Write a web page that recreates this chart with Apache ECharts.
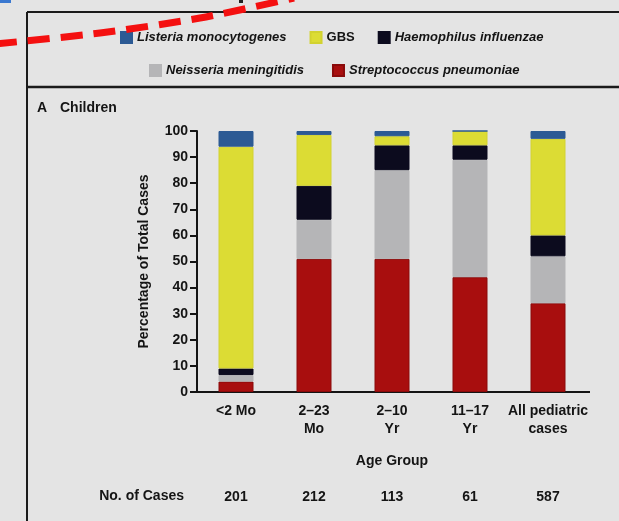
<!DOCTYPE html>
<html>
<head>
<meta charset="utf-8">
<script src="https://cdn.jsdelivr.net/npm/echarts@6/dist/echarts.min.js"></script>
<style>
  html, body { margin: 0; padding: 0; background: #e4e4e4; }
  #chart { width: 619px; height: 521px; }
</style>
</head>
<body>
<div id="chart"></div>
<script>
// Age groups along the x axis
const ageGroups = ['<2 Mo', '2–23\nMo', '2–10\nYr', '11–17\nYr', 'All pediatric\ncases'];
// Number of cases per age group
const caseCounts = ['201', '212', '113', '61', '587'];

// Percentage of total cases per pathogen, one value per age group
const streptococcus = [4, 51, 51, 44, 34];
const neisseria = [2.5, 15, 34, 45, 18];
const haemophilus = [2.5, 13, 9.5, 5.5, 8];
const gbs = [85, 19.5, 3.5, 5.5, 37];
const listeria = [6, 1.5, 2, 0, 3];

const yTicks = { min: 0, max: 100, interval: 10 };

const FONT = '"Liberation Sans", Arial, sans-serif';
const INK = '#141414';

const chart = echarts.init(document.getElementById('chart'));

function barSeries(name, data, color, border) {
  return {
    name: name,
    type: 'bar',
    stack: 'total',
    data: data,
    barWidth: 35,
    itemStyle: { color: color, borderColor: border, borderWidth: 1 },
    emphasis: { disabled: true }
  };
}

const legendText = {
  fontFamily: FONT,
  fontSize: 13,
  fontWeight: 'bold',
  color: INK,
  rich: {
    i: { fontFamily: FONT, fontSize: 13, fontWeight: 'bold', fontStyle: 'italic', color: INK },
    n: { fontFamily: FONT, fontSize: 13, fontWeight: 'bold', color: INK }
  }
};
const legendFormatter = name => name === 'GBS' ? '{n|' + name + '}' : '{i|' + name + '}';

chart.setOption({
  backgroundColor: '#e4e4e4',
  animation: false,
  legend: [
    {
      left: 115, top: 26,
      icon: 'rect', itemWidth: 11, itemHeight: 11, itemGap: 23,
      selectedMode: false,
      data: ['Listeria monocytogenes', 'GBS', 'Haemophilus influenzae'],
      formatter: legendFormatter,
      textStyle: legendText
    },
    {
      left: 144, top: 59,
      icon: 'rect', itemWidth: 11, itemHeight: 11, itemGap: 28,
      selectedMode: false,
      data: ['Neisseria meningitidis', 'Streptococcus pneumoniae'],
      formatter: legendFormatter,
      textStyle: legendText
    }
  ],
  grid: { left: 197, right: 32, top: 131, bottom: 129 },
  xAxis: [
    {
      type: 'category',
      data: ageGroups,
      axisLine: { lineStyle: { color: INK, width: 2 } },
      axisTick: { alignWithLabel: true, length: 5, lineStyle: { color: INK, width: 2 } },
      axisLabel: {
        margin: 10, lineHeight: 18, interval: 0,
        fontFamily: FONT, fontSize: 14, fontWeight: 'bold', color: INK
      },
      name: 'Age Group',
      nameLocation: 'middle',
      nameGap: 62,
      nameTextStyle: { fontFamily: FONT, fontSize: 14, fontWeight: 'bold', color: INK }
    },
    {
      type: 'category',
      data: caseCounts,
      position: 'bottom',
      offset: 90,
      axisLine: { show: false },
      axisTick: { show: false },
      axisLabel: { interval: 0, fontFamily: FONT, fontSize: 14, fontWeight: 'bold', color: INK }
    }
  ],
  yAxis: {
    type: 'value',
    min: yTicks.min, max: yTicks.max, interval: yTicks.interval,
    splitLine: { show: false },
    axisLine: { show: true, lineStyle: { color: INK, width: 2 } },
    axisTick: { show: true, length: 7, lineStyle: { color: INK, width: 2 } },
    axisLabel: { margin: 9, fontFamily: FONT, fontSize: 14, fontWeight: 'bold', color: INK },
    name: 'Percentage of Total Cases',
    nameLocation: 'middle',
    nameGap: 46,
    nameTextStyle: { fontFamily: FONT, fontSize: 14, fontWeight: 'bold', color: INK }
  },
  series: [
    barSeries('Streptococcus pneumoniae', streptococcus, '#a80e0e', '#8a0a0a'),
    barSeries('Neisseria meningitidis', neisseria, '#b5b5b7', '#b5b5b7'),
    barSeries('Haemophilus influenzae', haemophilus, '#0c0b1e', '#0c0b1e'),
    barSeries('GBS', gbs, '#dcdc34', '#d2d230'),
    barSeries('Listeria monocytogenes', listeria, '#2c5a94', '#2c5a94')
  ],
  graphic: [
    // panel frame: left rule, top rule and the rule under the legend
    { type: 'line', shape: { x1: 27, y1: 12, x2: 27, y2: 521 }, style: { stroke: '#1a1a1a', lineWidth: 2 } },
    { type: 'line', shape: { x1: 27, y1: 12, x2: 619, y2: 12 }, style: { stroke: '#1a1a1a', lineWidth: 2 } },
    { type: 'line', shape: { x1: 27, y1: 87, x2: 619, y2: 87 }, style: { stroke: '#1a1a1a', lineWidth: 2.5 } },
    // x axis line continues to the y axis corner and a little past the last bar
    { type: 'line', shape: { x1: 196, y1: 392, x2: 590, y2: 392 }, style: { stroke: INK, lineWidth: 2 } },
    // panel heading
    {
      type: 'text', left: 37, top: 101,
      style: { text: 'A', fontFamily: FONT, fontSize: 14, fontWeight: 'bold', fill: INK }
    },
    {
      type: 'text', left: 60, top: 101,
      style: { text: 'Children', fontFamily: FONT, fontSize: 14, fontWeight: 'bold', fill: INK }
    },
    // row label for the case counts
    {
      type: 'text', right: 619 - 184, top: 489,
      style: { text: 'No. of Cases', fontFamily: FONT, fontSize: 14, fontWeight: 'bold', fill: INK, align: 'right' }
    },
    // red dashed annotation stroke across the top-left corner
    {
      type: 'polyline', z: 100,
      shape: { points: [[-5, 44], [100, 33], [200, 18], [294, -2]], smooth: 0.3 },
      style: { stroke: '#f41010', lineWidth: 7, lineDash: [22, 11], fill: null }
    },
    { type: 'rect', shape: { x: 0, y: 0, width: 11, height: 3 }, style: { fill: '#3a78d0' } },
    { type: 'rect', shape: { x: 239, y: 0, width: 4, height: 3 }, style: { fill: '#222' } }
  ]
});
</script>
</body>
</html>
